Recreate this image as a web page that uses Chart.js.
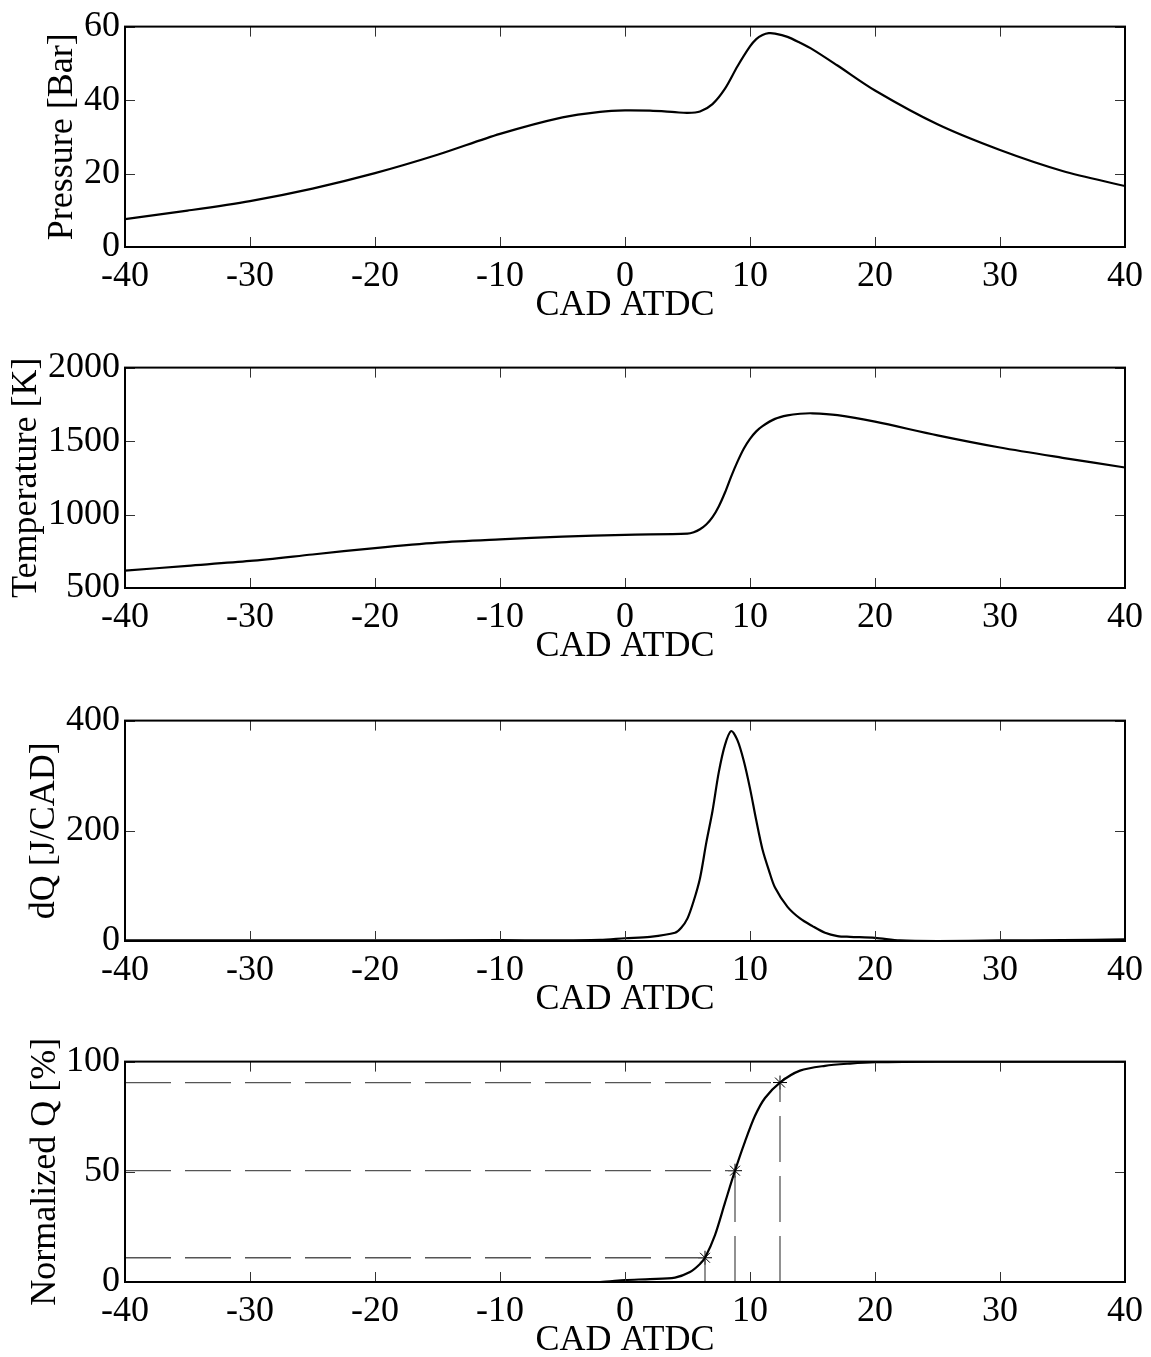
<!DOCTYPE html>
<html>
<head>
<meta charset="utf-8">
<script src="https://cdn.jsdelivr.net/npm/chart.js@4.4.1/dist/chart.umd.min.js"></script>
<style>
  body { margin: 0; background: #fff; }
  #wrap { position: relative; width: 1151px; height: 1357px; }
  canvas { position: absolute; left: 0; }
</style>
</head>
<body>
<div id="wrap">
  <canvas id="c1" width="1151" height="322" style="top:0px"></canvas>
  <canvas id="c2" width="1151" height="322" style="top:341px"></canvas>
  <canvas id="c3" width="1151" height="322" style="top:694px"></canvas>
  <canvas id="c4" width="1151" height="322" style="top:1035px"></canvas>
</div>
<script>
// crank angle ticks
const cadTicks = [-40, -30, -20, -10, 0, 10, 20, 30, 40];

// pressure [bar]
const pressureCad = [-40, -35, -30, -25, -20, -15, -10, -5, -2, 0, 2, 4, 5, 6, 7, 8, 9, 10, 10.5, 11, 11.5, 12, 13, 14, 15, 17, 20, 25, 30, 35, 40];
const pressure = [7.6, 9.9, 12.5, 15.9, 20.1, 25.1, 30.8, 35.3, 36.8, 37.2, 37.1, 36.7, 36.5, 36.9, 38.9, 43.1, 49.2, 54.6, 56.6, 57.7, 58.2, 58.1, 57.2, 55.6, 53.8, 49.4, 42.6, 33.4, 26.4, 20.7, 16.6];

// temperature [K]
const tempCad = [-40, -35, -30, -25, -20, -15, -10, -5, 0, 5, 5.5, 6, 6.5, 7, 7.5, 8, 8.5, 9, 9.5, 10, 10.5, 11, 12, 13, 14, 15, 17, 20, 25, 30, 35, 40];
const temperature = [618, 651, 684, 728, 772, 809, 831, 849, 862, 870, 880, 900, 932, 982, 1055, 1150, 1260, 1360, 1448, 1515, 1566, 1602, 1651, 1675, 1686, 1689, 1676, 1632, 1539, 1456, 1386, 1320];

// heat release rate [J/CAD]
const dqCad = [-40, -30, -20, -10, -6, -2, 0, 2, 4, 4.5, 5, 5.5, 6, 6.5, 7, 7.5, 8, 8.5, 9, 9.5, 10, 10.5, 11, 11.5, 12, 13, 14, 15, 16, 17, 18, 20, 22, 25, 30, 35, 40];
const dq = [1, 1, 1, 1.5, 1, 2, 5, 7.6, 15, 24, 41, 73, 114, 178, 236, 306, 356, 381, 364, 327, 277, 219, 166, 129, 97, 62, 41, 27, 15, 9, 7.6, 5.8, 1, 0, 1, 1.5, 3];

// normalized cumulative heat [%]
const qCad = [-40, -20, -10, -2, 0, 2, 4, 5.2, 6, 6.4, 7.2, 8, 8.8, 9.6, 10.4, 11.2, 12.4, 14, 16, 18, 20, 25, 40];
const qNorm = [0, 0, 0, 0, 0.9, 1.3, 2, 4.5, 8.2, 11, 21.3, 36, 50.5, 63.7, 75.4, 83.5, 90.5, 95.9, 98.1, 99.1, 99.7, 100, 100];

// burn points (CA10, CA50, CA90)
const markerCad = [6.4, 8.8, 12.4];
const markerQ = [11, 50.5, 90.5];

const FONT = { family: "'Liberation Serif', 'Times New Roman', serif", size: 36 };

// box and inward ticks like matlab
const boxPlugin = {
  id: "matlabBox",
  afterDraw(chart) {
    const { ctx, chartArea: a, scales } = chart;
    const x = scales.x, y = scales.y;
    ctx.save();
    ctx.strokeStyle = "#333";
    ctx.lineWidth = 1;
    ctx.beginPath();
    x.ticks.forEach((t) => {
      const px = Math.round(x.getPixelForValue(t.value)) + 0.5;
      ctx.moveTo(px, a.bottom);
      ctx.lineTo(px, a.bottom - 10);
      ctx.moveTo(px, a.top);
      ctx.lineTo(px, a.top + 10);
    });
    y.ticks.forEach((t) => {
      const py = Math.round(y.getPixelForValue(t.value)) + 0.5;
      ctx.moveTo(a.left, py);
      ctx.lineTo(a.left + 10, py);
      ctx.moveTo(a.right, py);
      ctx.lineTo(a.right - 10, py);
    });
    ctx.stroke();
    ctx.strokeStyle = "#000";
    ctx.lineWidth = 2;
    ctx.strokeRect(a.left, a.top, a.right - a.left, a.bottom - a.top);
    ctx.restore();
  },
};

function toPoints(xs, ys) {
  return xs.map((x, i) => ({ x: x, y: ys[i] }));
}

function curve(xs, ys) {
  return {
    data: toPoints(xs, ys),
    borderColor: "#000",
    borderWidth: 2.2,
    pointRadius: 0,
    tension: 0.3,
    fill: false,
  };
}

function makeChart(id, datasets, yMin, yMax, yStep, yTitle, yTitlePad) {
  const ctx = document.getElementById(id).getContext("2d");
  return new Chart(ctx, {
    type: "line",
    data: { datasets: datasets },
    options: {
      responsive: false,
      animation: false,
      layout: { padding: { top: 19, right: 25, left: 0, bottom: 0 } },
      plugins: { legend: { display: false }, tooltip: { enabled: false } },
      scales: {
        x: {
          type: "linear",
          min: -40,
          max: 40,
          afterBuildTicks: (s) => {
            s.ticks = cadTicks.map((v) => ({ value: v }));
          },
          afterFit: (s) => {
            s.height = 75;
          },
          grid: { display: false, drawTicks: false },
          border: { display: false },
          ticks: {
            font: FONT,
            color: "#000",
            padding: 8,
            maxRotation: 0,
            autoSkip: false,
            callback: (v) => String(v),
          },
          title: {
            display: true,
            text: "CAD ATDC",
            font: FONT,
            color: "#000",
            padding: { top: 0, bottom: -5 },
          },
        },
        y: {
          type: "linear",
          min: yMin,
          max: yMax,
          ticks: {
            stepSize: yStep,
            font: FONT,
            color: "#000",
            padding: 5,
            autoSkip: false,
            callback: (v) => String(v),
          },
          afterFit: (s) => {
            s.width = 125;
          },
          grid: { display: false, drawTicks: false },
          border: { display: false },
          title: {
            display: true,
            text: yTitle,
            font: FONT,
            color: "#000",
            padding: { top: yTitlePad, bottom: 0 },
          },
        },
      },
    },
    plugins: [boxPlugin],
  });
}

document.addEventListener("DOMContentLoaded", () => {
  makeChart("c1", [curve(pressureCad, pressure)], 0, 60, 20, "Pressure [Bar]", 41);
  makeChart("c2", [curve(tempCad, temperature)], 500, 2000, 500, "Temperature [K]", 5);
  makeChart("c3", [curve(dqCad, dq)], 0, 400, 200, "dQ [J/CAD]", 23);

  // dashed guide lines to the burn points
  const guides = [];
  markerCad.forEach((mx, i) => {
    const my = markerQ[i];
    const style = {
      borderColor: "#555",
      borderWidth: 1.3,
      borderDash: [46, 14],
      pointRadius: 0,
      tension: 0,
      fill: false,
    };
    guides.push(Object.assign({ data: [{ x: -40, y: my }, { x: mx, y: my }] }, style));
    guides.push(Object.assign({ data: [{ x: mx, y: 0 }, { x: mx, y: my }] }, style));
  });

  const markers = {
    data: toPoints(markerCad, markerQ),
    showLine: false,
    pointStyle: "star",
    pointRadius: 7,
    borderColor: "#000",
    borderWidth: 1,
    backgroundColor: "#000",
  };

  makeChart("c4", [curve(qCad, qNorm)].concat(guides, [markers]), 0, 100, 50, "Normalized Q [%]", 24);
});
</script>
</body>
</html>
